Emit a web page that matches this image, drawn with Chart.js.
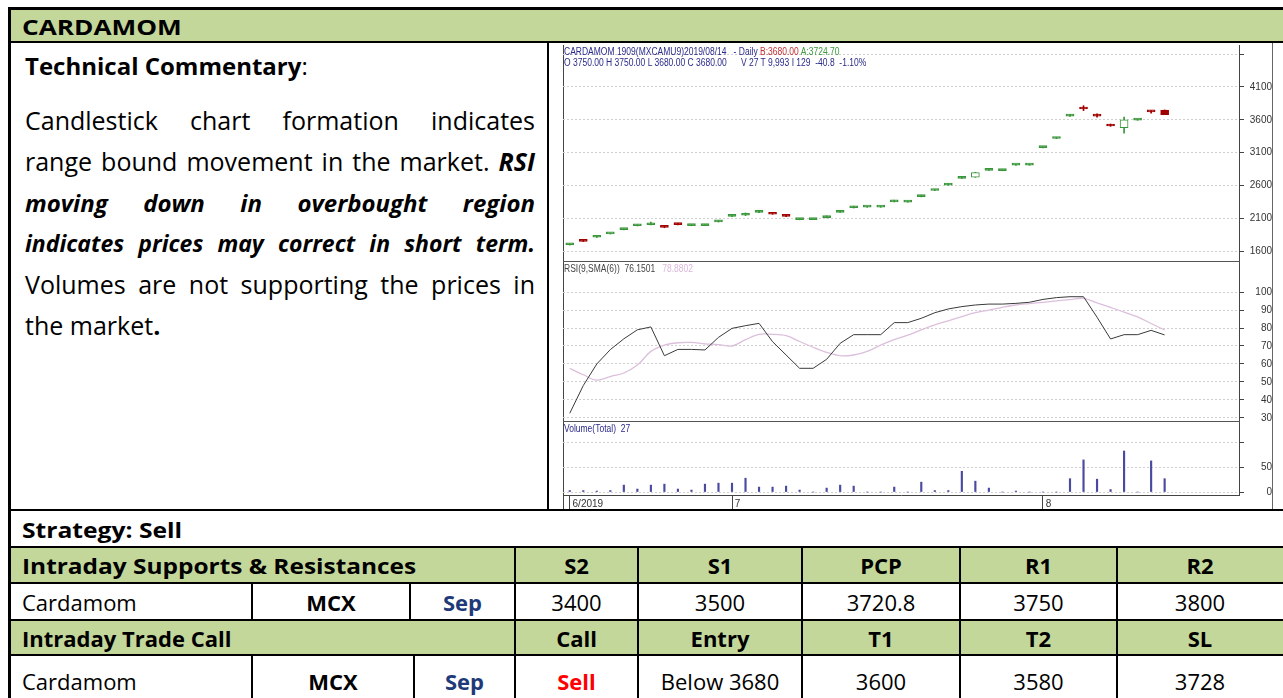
<!DOCTYPE html>
<html>
<head>
<meta charset="utf-8">
<script src="https://cdn.jsdelivr.net/npm/chart.js@4.4.0/dist/chart.umd.min.js"></script>
<style>
  body { margin:0; width:1283px; height:698px; overflow:hidden; background:#fff; position:relative; font-family:'Open Sans', sans-serif; color:#000; }
  .hl { position:absolute; background:#000; height:2px; }
  .vl { position:absolute; background:#000; width:2px; }
  .fill { position:absolute; background:#c4d79b; }
  .cell { position:absolute; display:flex; align-items:center; justify-content:center; font-size:22px; white-space:nowrap; }
  .cell.l { justify-content:flex-start; padding-left:12px; box-sizing:border-box; }
  .b { font-weight:bold; }
  .wide { display:inline-block; transform-origin:0 50%; }
  .navy { color:#1f3a78; font-weight:bold; }
  .red { color:#ff0000; font-weight:bold; }
  .chartbox { position:absolute; left:549px; top:43px; width:723px; height:466px; background:#fff; border-right:1px solid #666; }
  .cv { position:absolute; }
  .sep { position:absolute; background:#555; height:1px; }
  .ct { position:absolute; font-family:'Liberation Sans',Arial,sans-serif; font-size:10px; line-height:11px; white-space:pre; color:#2a2a8a; transform:scaleX(0.85); transform-origin:0 0; }
  #comment { position:absolute; left:25px; top:100px; width:510px; font-size:25px; line-height:41px; }
  #comment .jl { text-align:justify; text-align-last:justify; height:41px; }
  #comment .bi { font-weight:bold; font-style:italic; font-size:23px; }
</style>
</head>
<body>

<!-- header -->
<div class="fill" style="left:10px;top:10px;width:1273px;height:31px;"></div>
<div class="cell l b" style="left:10px;top:10px;width:400px;height:31px;"><span class="wide" style="transform:scaleX(1.19)">CARDAMOM</span></div>

<!-- commentary -->
<div class="cell l" style="left:13px;top:48px;width:520px;height:34px;font-size:24px;"><span class="b">Technical Commentary</span>:</div>
<div id="comment">
  <div class="jl">Candlestick chart formation indicates</div>
  <div class="jl">range bound movement in the market. <b><i>RSI</i></b></div>
  <div class="jl bi" style="font-size:24px">moving down in overbought region</div>
  <div class="jl bi">indicates prices may correct in short term.</div>
  <div class="jl">Volumes are not supporting the prices in</div>
  <div>the market<b>.</b></div>
</div>

<!-- chart image area -->
<div class="chartbox"></div>
<div style="position:absolute;left:563px;top:45px;width:1px;height:465px;background:#444;"></div>
<canvas id="priceChart" class="cv" width="709" height="216" style="left:563px;top:45px;"></canvas>
<canvas id="rsiChart" class="cv" width="709" height="159" style="left:563px;top:262px;"></canvas>
<canvas id="volChart" class="cv" width="709" height="88" style="left:563px;top:422px;"></canvas>
<div class="sep" style="left:563px;top:261px;width:677px;"></div>
<div class="sep" style="left:563px;top:421px;width:677px;"></div>

<div class="ct" style="left:564px;top:46px;">CARDAMOM 1909(MXCAMU9)2019/08/14   - Daily <span style="color:#c03030">B:3680.00</span> <span style="color:#3a9a3a">A:3724.70</span></div>
<div class="ct" style="left:564px;top:57px;">O 3750.00 H 3750.00 L 3680.00 C 3680.00      V 27 T 9,993 I 129  -40.8  -1.10%</div>
<div class="ct" style="left:564px;top:263px;color:#444;">RSI(9,SMA(6))  76.1501   <span style="color:#dab8da">78.8802</span></div>
<div class="ct" style="left:564px;top:423px;">Volume(Total)  27</div>

<!-- lower table -->
<div class="cell l b" style="left:10px;top:511px;width:600px;height:35px;"><span class="wide" style="transform:scaleX(1.12)">Strategy: Sell</span></div>

<div class="fill" style="left:10px;top:548px;width:1273px;height:34px;"></div>
<div class="cell l b" style="left:10px;top:548px;width:505px;height:34px;"><span class="wide" style="transform:scaleX(1.11)">Intraday Supports &amp; Resistances</span></div>
<div class="cell b" style="left:515px;top:548px;width:123px;height:34px;">S2</div>
<div class="cell b" style="left:638px;top:548px;width:164px;height:34px;">S1</div>
<div class="cell b" style="left:802px;top:548px;width:158px;height:34px;">PCP</div>
<div class="cell b" style="left:960px;top:548px;width:157px;height:34px;">R1</div>
<div class="cell b" style="left:1117px;top:548px;width:166px;height:34px;">R2</div>

<div class="cell l" style="left:10px;top:584px;width:242px;height:35px;">Cardamom</div>
<div class="cell b" style="left:252px;top:584px;width:158px;height:35px;">MCX</div>
<div class="cell navy" style="left:410px;top:584px;width:105px;height:35px;">Sep</div>
<div class="cell" style="left:515px;top:584px;width:123px;height:35px;">3400</div>
<div class="cell" style="left:638px;top:584px;width:164px;height:35px;">3500</div>
<div class="cell" style="left:802px;top:584px;width:158px;height:35px;">3720.8</div>
<div class="cell" style="left:960px;top:584px;width:157px;height:35px;">3750</div>
<div class="cell" style="left:1117px;top:584px;width:166px;height:35px;">3800</div>

<div class="fill" style="left:10px;top:621px;width:1273px;height:33px;"></div>
<div class="cell l b" style="left:10px;top:621px;width:505px;height:33px;">Intraday Trade Call</div>
<div class="cell b" style="left:515px;top:621px;width:123px;height:33px;">Call</div>
<div class="cell b" style="left:638px;top:621px;width:164px;height:33px;">Entry</div>
<div class="cell b" style="left:802px;top:621px;width:158px;height:33px;">T1</div>
<div class="cell b" style="left:960px;top:621px;width:157px;height:33px;">T2</div>
<div class="cell b" style="left:1117px;top:621px;width:166px;height:33px;">SL</div>

<div class="cell l" style="left:10px;top:656px;width:242px;height:50px;">Cardamom</div>
<div class="cell b" style="left:252px;top:656px;width:162px;height:50px;">MCX</div>
<div class="cell navy" style="left:414px;top:656px;width:101px;height:50px;">Sep</div>
<div class="cell red" style="left:515px;top:656px;width:123px;height:50px;">Sell</div>
<div class="cell" style="left:638px;top:656px;width:164px;height:50px;">Below 3680</div>
<div class="cell" style="left:802px;top:656px;width:158px;height:50px;">3600</div>
<div class="cell" style="left:960px;top:656px;width:157px;height:50px;">3580</div>
<div class="cell" style="left:1117px;top:656px;width:166px;height:50px;">3728</div>

<!-- table rules -->
<div class="hl" style="left:8px;top:7px;width:1275px;height:3px;"></div>
<div class="hl" style="left:8px;top:41px;width:1275px;"></div>
<div class="hl" style="left:8px;top:509px;width:1275px;"></div>
<div class="hl" style="left:8px;top:546px;width:1275px;"></div>
<div class="hl" style="left:8px;top:582px;width:1275px;"></div>
<div class="hl" style="left:8px;top:619px;width:1275px;"></div>
<div class="hl" style="left:8px;top:654px;width:1275px;"></div>
<div class="vl" style="left:8px;top:7px;height:691px;width:3px;"></div>
<div class="vl" style="left:547px;top:41px;height:469px;"></div>
<div class="vl" style="left:514px;top:546px;height:152px;"></div>
<div class="vl" style="left:637px;top:546px;height:152px;"></div>
<div class="vl" style="left:801px;top:546px;height:152px;"></div>
<div class="vl" style="left:959px;top:546px;height:152px;"></div>
<div class="vl" style="left:1116px;top:546px;height:152px;"></div>
<div class="vl" style="left:251px;top:582px;height:38px;"></div>
<div class="vl" style="left:409px;top:582px;height:38px;"></div>
<div class="vl" style="left:251px;top:654px;height:44px;"></div>
<div class="vl" style="left:413px;top:654px;height:44px;"></div>

<script>
// trading days shown on the chart
var dates = [
  '2019/06/13','2019/06/14','2019/06/17','2019/06/18','2019/06/19','2019/06/20','2019/06/21',
  '2019/06/24','2019/06/25','2019/06/26','2019/06/27','2019/06/28',
  '2019/07/01','2019/07/02','2019/07/03','2019/07/04','2019/07/05','2019/07/08','2019/07/09',
  '2019/07/10','2019/07/11','2019/07/12','2019/07/15','2019/07/16','2019/07/17','2019/07/18',
  '2019/07/19','2019/07/22','2019/07/23','2019/07/24','2019/07/25','2019/07/26','2019/07/29',
  '2019/07/30','2019/07/31',
  '2019/08/01','2019/08/02','2019/08/05','2019/08/06','2019/08/07','2019/08/08','2019/08/09',
  '2019/08/12','2019/08/13','2019/08/14'
];
var emptySlots = 5; // blank days to the right of the last candle

var openP  = [1695,1760,1810,1862,1925,1985,2000,1985,2012,1988,1988,2045,2128,2145,2188,2178,2148,2078,2078,2108,
              2190,2260,2268,2268,2350,2345,2430,2522,2605,2708,2725,2830,2825,2908,2908,3175,3315,3655,3790,3685,
              3530,3480,3595,3730,3750];
var highP  = [1710,1765,1835,1875,1940,2000,2040,1990,2022,2002,2002,2065,2138,2180,2215,2182,2150,2088,2088,2135,
              2205,2285,2280,2280,2375,2355,2450,2535,2630,2735,2800,2850,2835,2922,2922,3188,3330,3685,3815,3690,
              3535,3640,3612,3740,3750];
var lowP   = [1690,1745,1805,1860,1922,1982,1998,1955,1998,1985,1985,2042,2125,2140,2185,2160,2122,2076,2076,2105,
              2188,2255,2266,2266,2348,2343,2425,2520,2602,2705,2722,2828,2823,2906,2906,3172,3312,3652,3740,3640,
              3500,3395,3592,3700,3680];
var closeP = [1705,1748,1822,1872,1935,1995,2030,1960,2002,1996,1996,2065,2138,2170,2200,2160,2128,2086,2086,2128,
              2205,2280,2280,2280,2360,2355,2442,2535,2622,2722,2795,2845,2835,2920,2920,3185,3328,3682,3765,3655,
              3505,3600,3610,3720.8,3680];

var rsi9   = [32.6,48,60,68,74,79,80.6,64.6,68.1,68.1,67.8,74.8,79.8,81.3,82.6,72.4,65,57.6,57.6,62.6,
              71.5,76.3,76.3,76.3,83,83,85.4,88.5,90.6,91.9,92.8,93.3,93.3,93.7,94.3,95.9,96.9,97.4,97.4,86,
              73.9,76.3,76.3,78.7,76.15];
var rsiSma = [57.6,54,51,53,55,59.4,67,70.5,71.8,72,71.2,70.8,70,73.5,76.5,76.5,75.7,72.5,69.3,66.5,
              64.6,65,67,70.5,73.5,76,79,81.7,84,86.3,88.5,90,91.5,92.8,93.6,94.3,95.1,95.8,96.5,94,
              91.5,88.8,86.2,82.5,78.88];
var volume = [3,3,2,3,14,6,14,16,6,4,16,18,18,28,10,10,12,4,0,8,
              14,12,0,0,10,0,20,3,3,42,22,8,0,2,0,0,0,27,65,26,
              5,83,0,63,27];

var priceTicks = [1600,2100,2600,3100,3600,4100,4600];
var rsiTicks = [30,40,50,60,70,80,90,100];
var volTicks = [0,50,100];

var labels = dates.concat(Array(emptySlots).fill(''));
var UP = '#3a963a', DOWN = '#a00000';
var tickFont = { family: "'Liberation Sans',Arial", size: 10 };

function isUp(i){ return closeP[i] >= openP[i]; }
function isHollow(i){ return isUp(i) && closeP[i] - openP[i] > 50; }

function yAxis(min, max, values, pad, hideAbove){
  return {
    position: 'right', min: min, max: max,
    afterBuildTicks: function(s){ s.ticks = values.map(function(v){ return {value: v}; }); },
    afterFit: function(s){ s.width = 33; s.paddingTop = 0; s.paddingBottom = 0; },
    grid: { color: '#cfcfcf', tickColor: '#444', tickLength: 5, lineWidth: 1 },
    border: { display: true, color: '#444', dash: [2,2] },
    ticks: { font: tickFont, color: '#333', padding: pad, crossAlign: 'far',
      callback: function(v){ return v > hideAbove ? '' : v; } }
  };
}
function hiddenX(){
  return { display: false, offset: true };
}

// price panel (candles as floating bars)
var wick = [], body = [];
for (var i = 0; i < openP.length; i++) {
  wick.push([lowP[i], highP[i]]);
  body.push([openP[i], closeP[i]]);
}
new Chart(document.getElementById('priceChart'), {
  type: 'bar',
  data: {
    labels: labels,
    datasets: [{
      data: body, grouped: false, barThickness: 8, minBarLength: 2, borderWidth: 1, borderSkipped: false,
      backgroundColor: function(c){ return isHollow(c.dataIndex) ? '#ffffff' : (isUp(c.dataIndex) ? UP : DOWN); },
      borderColor: function(c){ return isUp(c.dataIndex) ? UP : DOWN; }
    }, {
      data: wick, grouped: false, barThickness: 1, minBarLength: 1,
      backgroundColor: function(c){ return isUp(c.dataIndex) ? UP : DOWN; }
    }]
  },
  options: {
    responsive: false, animation: false,
    plugins: { legend: { display: false }, tooltip: { enabled: false } },
    scales: { x: hiddenX(), y: yAxis(1448, 4740, priceTicks, 8, 4100) }
  }
});

// RSI panel
new Chart(document.getElementById('rsiChart'), {
  type: 'line',
  data: {
    labels: labels,
    datasets: [
      { data: rsi9, borderColor: '#3a3a3a', borderWidth: 1, pointRadius: 0, tension: 0 },
      { data: rsiSma, borderColor: '#dcbfdc', borderWidth: 1.3, pointRadius: 0, tension: 0.35 }
    ]
  },
  options: {
    responsive: false, animation: false,
    plugins: { legend: { display: false }, tooltip: { enabled: false } },
    scales: { x: hiddenX(), y: yAxis(28.3, 116.7, rsiTicks, 12, 100) }
  }
});

// volume panel with the date axis
function monthMark(i){
  if (i >= dates.length) return '';
  var p = dates[i].split('/');
  if (i === 0) return ' ' + Number(p[1]) + '/' + p[0];
  var q = dates[i-1].split('/');
  return p[1] !== q[1] ? ' ' + Number(p[1]) : '';
}
new Chart(document.getElementById('volChart'), {
  type: 'bar',
  data: {
    labels: labels,
    datasets: [{ data: volume, barThickness: 1.5, backgroundColor: '#4a4aa0' }]
  },
  options: {
    responsive: false, animation: false,
    plugins: { legend: { display: false }, tooltip: { enabled: false } },
    scales: {
      x: {
        offset: true,
        afterFit: function(s){ s.height = 15; s.paddingLeft = 0; s.paddingRight = 0; },
        grid: { offset: false, drawOnChartArea: false, tickLength: 15,
          color: function(c){ return monthMark(c.index) ? '#444' : 'rgba(0,0,0,0)'; } },
        border: { display: true, color: '#444' },
        ticks: { autoSkip: false, maxRotation: 0, align: 'start', padding: -12, font: tickFont, color: '#333',
          callback: function(v, i){ return monthMark(i); } }
      },
      y: yAxis(-6, 141.7, volTicks, 17, 50)
    }
  }
});
</script>
</body>
</html>
